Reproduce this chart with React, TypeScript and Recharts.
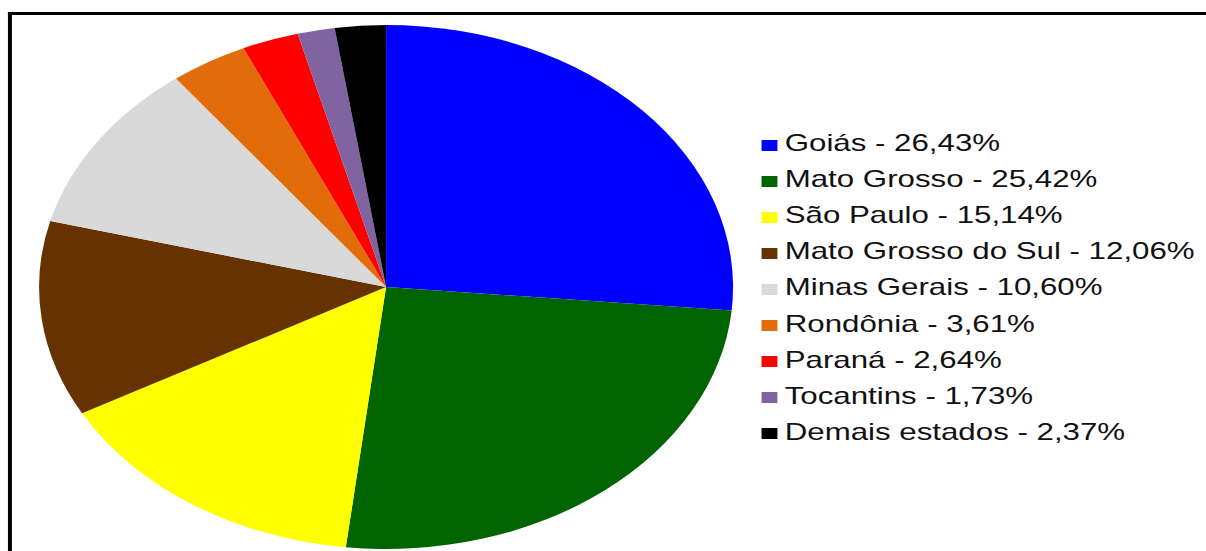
import { Cell, Legend, Pie, PieChart } from "recharts";

const states = [
  "Goiás",
  "Mato Grosso",
  "São Paulo",
  "Mato Grosso do Sul",
  "Minas Gerais",
  "Rondônia",
  "Paraná",
  "Tocantins",
  "Demais estados"
];

const shares = [26.43, 25.42, 15.14, 12.06, 10.6, 3.61, 2.64, 1.73, 2.37];

const sliceColors = [
  "#0000FF",
  "#006400",
  "#FFFF00",
  "#663300",
  "#D9D9D9",
  "#E36C0A",
  "#FF0000",
  "#8064A2",
  "#000000"
];

const data = states.map((name, i) => ({ name, value: shares[i] }));

// the source image is stretched horizontally, so draw narrow and scale x
const STRETCH = 1.3244;
const W = Math.round(1206 / STRETCH);
const H = 551;

const fmt = (v: number) => v.toFixed(2).replace(".", ",");

function LegendBox() {
  return (
    <div style={{ fontFamily: "'Liberation Sans', Arial, sans-serif", fontSize: 23.6, color: "#111" }}>
      {data.map((d, i) => (
        <div
          key={d.name}
          style={{ display: "flex", alignItems: "center", height: 36.1, whiteSpace: "nowrap" }}
        >
          <span
            style={{
              display: "inline-block",
              width: 12,
              height: 11,
              background: sliceColors[i],
              marginRight: 6,
              marginTop: 3
            }}
          />
          <span>{`${d.name} - ${fmt(d.value)}%`}</span>
        </div>
      ))}
    </div>
  );
}

export default function App() {
  return (
    <div style={{ position: "absolute", left: 0, top: 0, width: 1206, height: H, overflow: "hidden", background: "#fff" }}>
      <div
        style={{
          position: "absolute",
          left: 0,
          top: 0,
          width: W,
          height: H,
          transform: `scaleX(${STRETCH})`,
          transformOrigin: "0 0"
        }}
      >
        <div
          style={{
            position: "absolute",
            left: 6,
            top: 12,
            width: W + 40,
            height: H + 40,
            borderLeft: "3.8px solid #000",
            borderTop: "3px solid #000",
            boxSizing: "border-box"
          }}
        />
        <div style={{ position: "absolute", left: 0, top: 0 }}>
          <PieChart width={W} height={H} margin={{ top: 0, right: 0, bottom: 0, left: 0 }}>
            <Pie
              data={data}
              dataKey="value"
              nameKey="name"
              cx={291.5}
              cy={287}
              outerRadius={262}
              startAngle={90}
              endAngle={-270}
              stroke="none"
              isAnimationActive={false}
            >
              {data.map((d, i) => (
                <Cell key={d.name} fill={sliceColors[i]} />
              ))}
            </Pie>
            <Legend
              content={() => <LegendBox />}
              wrapperStyle={{ left: 574.5, top: 125.5, width: "auto", right: "auto", bottom: "auto" }}
            />
          </PieChart>
        </div>
      </div>
    </div>
  );
}
